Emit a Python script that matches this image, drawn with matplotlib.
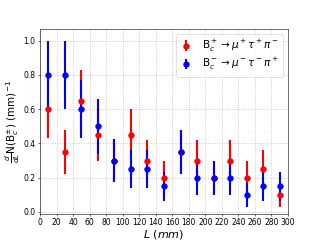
import numpy as np
import matplotlib.pyplot as plt

# data
L = [10, 30, 50, 70, 90, 110, 130, 150, 170, 190, 210, 230, 250, 270, 290]

n_plus = [0.60, 0.35, 0.65, 0.45, 0.30, 0.45, 0.30, 0.20, 0.35, 0.30, 0.20, 0.30, 0.20, 0.25, 0.10]
err_plus = [0.17, 0.13, 0.18, 0.15, 0.125, 0.15, 0.12, 0.10, 0.13, 0.12, 0.10, 0.12, 0.10, 0.11, 0.07]

n_minus = [0.80, 0.80, 0.60, 0.50, 0.30, 0.25, 0.25, 0.15, 0.35, 0.20, 0.20, 0.20, 0.10, 0.15, 0.15]
err_minus = [0.20, 0.20, 0.17, 0.16, 0.125, 0.11, 0.11, 0.085, 0.13, 0.10, 0.10, 0.10, 0.07, 0.085, 0.085]

fig = plt.figure(figsize=(6.4, 4.8), dpi=50)
ax = fig.add_subplot(111)

ax.errorbar(L, n_plus, yerr=err_plus, fmt='o', color='red', markersize=8, elinewidth=3,
            label=r'B$_c^+ \rightarrow \mu^+ \tau^+ \pi^-$')
ax.errorbar(L, n_minus, yerr=err_minus, fmt='o', color='blue', markersize=8, elinewidth=3,
            label=r'B$_c^- \rightarrow \mu^- \tau^- \pi^+$')

ax.set_xlim(0, 300)
ax.set_ylim(-0.01, 1.07)
ax.set_xticks(np.arange(0, 301, 20))
ax.set_yticks(np.arange(0, 1.01, 0.2))
ax.tick_params(labelsize=11)
ax.grid(True, linestyle=':', color='#b0b0b0', linewidth=1)

ax.set_xlabel(r'$L\ (mm)$', fontsize=16, labelpad=1)
ax.set_ylabel(r'$\frac{d}{dL}$N(B$_c^{\pm}$) (mm)$^{-1}$', fontsize=15, labelpad=2)
ax.legend(loc='upper right', fontsize=15, handlelength=1.2, labelspacing=0.2,
          borderpad=0.4, handletextpad=0.9)

fig.savefig('out.png', dpi=50)
